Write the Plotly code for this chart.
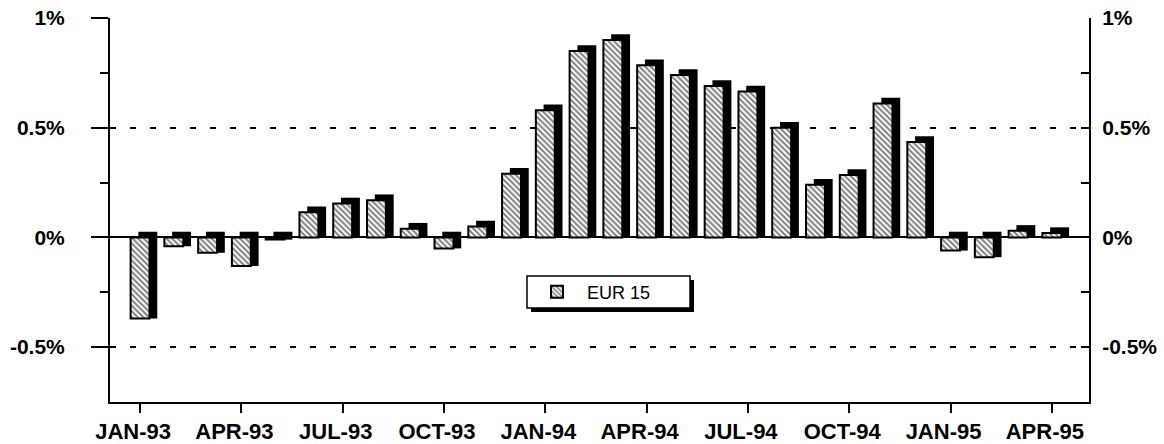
import plotly.graph_objects as go

# Monthly series, EUR 15 (% change)
months = [
    "JAN-93", "FEB-93", "MAR-93", "APR-93", "MAY-93", "JUN-93", "JUL-93",
    "AUG-93", "SEP-93", "OCT-93", "NOV-93", "DEC-93", "JAN-94", "FEB-94",
    "MAR-94", "APR-94", "MAY-94", "JUN-94", "JUL-94", "AUG-94", "SEP-94",
    "OCT-94", "NOV-94", "DEC-94", "JAN-95", "FEB-95", "MAR-95", "APR-95",
]
eur15 = [
    -0.37, -0.04, -0.07, -0.13, -0.01, 0.115, 0.155, 0.17, 0.04, -0.05,
    0.05, 0.29, 0.58, 0.85, 0.90, 0.785, 0.74, 0.69, 0.665, 0.50,
    0.24, 0.285, 0.61, 0.435, -0.06, -0.09, 0.03, 0.02,
]
y_ticks = [-0.5, 0, 0.5, 1]
y_tick_text = ["-0.5%", "0%", "0.5%", "1%"]
y_minor = [-0.25, 0.25, 0.75]

xpos = list(range(len(months)))
BAR_W = 0.56      # front face width (months)
DEPTH_X = 0.23    # extrusion shift to the right (months)
DEPTH_Y = 0.026   # extrusion shift upwards (%)

FONT = "Liberation Sans, Arial, Helvetica, sans-serif"

W, H = 1164, 444
M = dict(l=110, r=75, t=18, b=42)
plot_w = W - M["l"] - M["r"]
plot_h = H - M["t"] - M["b"]

fig = go.Figure()

# dark extrusion behind each bar
fig.add_bar(
    x=xpos,
    base=[min(v, 0) for v in eur15],
    y=[abs(v) + DEPTH_Y for v in eur15],
    width=BAR_W,
    offset=-BAR_W / 2 + DEPTH_X,
    marker=dict(color="black", line=dict(width=0)),
    showlegend=False,
    hoverinfo="skip",
)

# hatched front face
fig.add_bar(
    x=xpos,
    y=eur15,
    width=BAR_W,
    offset=-BAR_W / 2,
    name="EUR 15",
    marker=dict(
        color="white",
        line=dict(color="black", width=2),
        pattern=dict(shape="\\", fgcolor="black", bgcolor="white",
                     size=4, solidity=0.5, fillmode="overlay"),
    ),
)

# carrier for the right-hand axis
fig.add_scatter(x=[None], y=[None], yaxis="y2", showlegend=False, hoverinfo="skip")

x_font = dict(family=FONT, size=22, color="black", weight="bold")
y_font = dict(family=FONT, size=21, color="black", weight="bold")

# legend frame (pixels) with a drop shadow
LEG_X0, LEG_Y0, LEG_X1, LEG_Y1 = 527, 276, 690, 308
SHADOW = 4


def px_to_paper_x(px):
    return (px - M["l"]) / plot_w


def px_to_paper_y(py):
    return (H - M["b"] - py) / plot_h


fig.add_shape(
    type="rect", xref="paper", yref="paper", layer="above",
    x0=px_to_paper_x(LEG_X0 + SHADOW), x1=px_to_paper_x(LEG_X1 + SHADOW),
    y0=px_to_paper_y(LEG_Y1 + SHADOW), y1=px_to_paper_y(LEG_Y0 + SHADOW),
    fillcolor="black", line=dict(width=0),
)
fig.add_shape(
    type="rect", xref="paper", yref="paper", layer="above",
    x0=px_to_paper_x(LEG_X0), x1=px_to_paper_x(LEG_X1),
    y0=px_to_paper_y(LEG_Y1), y1=px_to_paper_y(LEG_Y0),
    fillcolor="white", line=dict(color="black", width=1.5),
)

fig.update_layout(
    width=W,
    height=H,
    margin=M,
    paper_bgcolor="white",
    plot_bgcolor="white",
    barmode="overlay",
    xaxis=dict(
        range=[-0.89, 28.1],
        tickmode="array",
        tickvals=xpos[::3],
        ticktext=months[::3],
        ticks="outside",
        ticklen=9,
        tickwidth=1.5,
        tickcolor="black",
        showline=True,
        linecolor="black",
        linewidth=2,
        showgrid=False,
        zeroline=False,
        tickfont=x_font,
        ticklabelshift=-7,
        ticklabelstandoff=0,
        automargin=False,
    ),
    yaxis=dict(
        range=[-0.75, 1.0],
        tickmode="array",
        tickvals=y_ticks,
        ticktext=y_tick_text,
        ticks="outside",
        ticklen=17,
        tickwidth=1.5,
        tickcolor="black",
        showline=True,
        linecolor="black",
        linewidth=2,
        showgrid=True,
        gridcolor="black",
        gridwidth=2,
        griddash="6px,14px",
        zeroline=True,
        zerolinecolor="black",
        zerolinewidth=1.5,
        minor=dict(tickmode="array", tickvals=y_minor, ticks="outside",
                   ticklen=8, tickwidth=1.5, tickcolor="black", showgrid=False),
        tickfont=y_font,
        ticklabelstandoff=22,
        automargin=False,
    ),
    yaxis2=dict(
        overlaying="y",
        side="right",
        range=[-0.75, 1.0],
        tickmode="array",
        tickvals=y_ticks,
        ticktext=y_tick_text,
        ticks="inside",
        ticklen=8,
        tickwidth=1.5,
        tickcolor="black",
        showline=True,
        linecolor="black",
        linewidth=2,
        showgrid=False,
        zeroline=False,
        minor=dict(tickmode="array", tickvals=y_minor, ticks="inside",
                   ticklen=8, tickwidth=1.5, tickcolor="black", showgrid=False),
        tickfont=y_font,
        ticklabelstandoff=7,
        automargin=False,
    ),
    legend=dict(
        orientation="h",
        x=px_to_paper_x(LEG_X0),
        y=px_to_paper_y((LEG_Y0 + LEG_Y1) / 2),
        xanchor="left", yanchor="middle",
        bgcolor="rgba(0,0,0,0)", borderwidth=0,
        font=dict(family=FONT, size=18, color="black"),
        entrywidth=90,
        itemwidth=50,
    ),
    showlegend=True,
)

fig.write_html("out.html")
